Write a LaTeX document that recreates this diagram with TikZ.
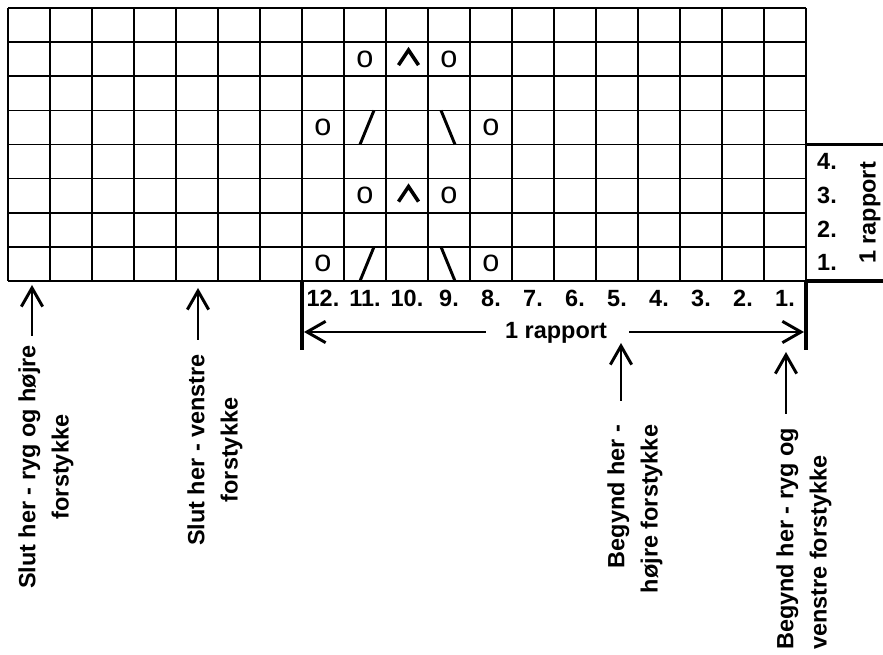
\documentclass[tikz,border=0pt]{standalone}
\usepackage{fontspec}
\setmainfont{Liberation Sans}
\usetikzlibrary{arrows.meta,calc}
\begin{document}
\begin{tikzpicture}[x=0.75pt,y=-0.75pt,
  gridline/.style={line width=1.3pt},
  heavyline/.style={line width=2.3pt},
  lbl/.style={font=\fontsize{17.6}{25}\selectfont\bfseries, inner sep=0pt},
  vlbl/.style={lbl, rotate=90},
  osym/.style={font=\fontsize{23}{23}\selectfont, inner sep=0pt},
  sym/.style={line width=2.2pt},
  arr/.style={line width=2.2pt, -{Straight Barb[length=14pt,width=16pt]}}
]
\useasboundingbox (0,0) rectangle (883,655);
% grid
\foreach \i in {0,...,19} \draw[gridline] ({8+42*\i},8) -- ({8+42*\i},281);
\foreach \j in {0,...,8} \draw[gridline] (8,{8+34.125*\j}) -- (806,{8+34.125*\j});
% symbols: rows with o / \ o  (rows 1 and 5)
\foreach \t in {246.875,110.375} {
  \node[osym] at (323,{\t+17}) {o};
  \node[osym] at (491,{\t+17}) {o};
  \draw[sym] (360,{\t+34.125}) -- (374,\t);
  \draw[sym] (441,\t) -- (455,{\t+34.125});
}
% rows with o ^ o (rows 3 and 7)
\foreach \t in {178.625,42.125} {
  \node[osym] at (365,{\t+17}) {o};
  \node[osym] at (449,{\t+17}) {o};
  \draw[line width=2.7pt, line join=miter, miter limit=10] (398.5,{\t+23}) -- (408.5,{\t+8}) -- (418.5,{\t+23});
}
% right side repeat marker
\draw[heavyline] (806,144.5) -- (883,144.5);
\draw[heavyline] (806,281) -- (883,281);
\node[lbl, anchor=base] (r4) at (827,170) {4.};
\node[lbl, anchor=base] (r3) at (827,204) {3.};
\node[lbl, anchor=base] (r2) at (827,237.5) {2.};
\node[lbl, anchor=base] (r1) at (827,270.5) {1.};
\node[vlbl] (vrap) at (870,213) {1 rapport};
% column numbers
\foreach \n in {1,...,12} \node[lbl, anchor=base] (c\n) at ({827-42*\n},306.5) {\n.};
% bottom repeat marker
\coordinate (barL) at (302,281);
\coordinate (barR) at (806,281);
\coordinate (barLb) at (302,350);
\coordinate (barRb) at (806,350);
\draw[heavyline] (barL) -- (barLb);
\draw[heavyline] (barR) -- (barRb);
\node[lbl] (hrap) at (556,333) {1 rapport};
\coordinate (tipL) at (304,332);
\coordinate (tipR) at (804,332);
\draw[arr] ($(hrap.west)+(-19,-1)$) -- (tipL);
\draw[arr] ($(hrap.east)+(22,-1)$) -- (tipR);
% labels with arrows
\node[vlbl, align=center] (slut1) at (46,467) {Slut her - ryg og højre\\forstykke};
\node[vlbl, align=center] (slut2) at (215,450) {Slut her - venstre\\forstykke};
\node[vlbl, align=right] (beg1) at (635,509) {Begynd her -\\højre forstykke};
\node[vlbl, align=left] (beg2) at (804,539) {Begynd her - ryg og\\venstre forstykke};
\coordinate (a1) at (32,285);
\coordinate (a2) at (198,288);
\coordinate (a3) at (621,343);
\coordinate (a4) at (786,352);
\draw[arr] (32,336) -- (a1);
\draw[arr] (198,340) -- (a2);
\draw[arr] (621,401) -- (a3);
\draw[arr] (786,414) -- (a4);
\end{tikzpicture}
\end{document}
